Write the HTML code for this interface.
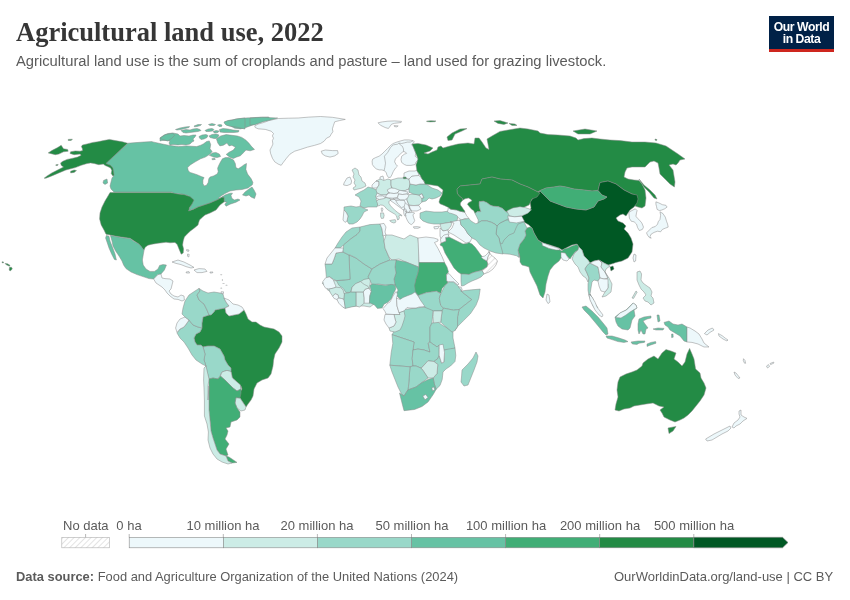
<!DOCTYPE html>
<html><head><meta charset="utf-8">
<style>
html,body{margin:0;padding:0;background:#fff;width:850px;height:600px;overflow:hidden;}
body{position:relative;font-family:"Liberation Sans",sans-serif;}
.t{position:absolute;white-space:nowrap;will-change:transform;}
#title{left:16px;top:17px;font-family:"Liberation Serif",serif;font-weight:bold;font-size:26.5px;color:#363636;letter-spacing:0px;}
#sub{left:16px;top:53px;font-size:14.75px;color:#5b5b5b;}
#logo{position:absolute;will-change:transform;left:769px;top:16px;width:65px;height:36px;background:#002147;}
#logo .bar{position:absolute;left:0;bottom:0;width:100%;height:3px;background:#ce261e;}
#logo .lt{position:absolute;left:0;width:100%;text-align:center;color:#fff;font-size:12.2px;font-weight:bold;line-height:12px;letter-spacing:-0.45px;}
.lg{position:absolute;will-change:transform;font-size:13px;color:#5b5b5b;top:517.5px;}
#foot1{left:16px;top:568.5px;font-size:12.9px;color:#5b5b5b;}
#foot2{right:17px;top:568.5px;font-size:13px;color:#5b5b5b;}
#map{position:absolute;left:0;top:0;}
</style></head><body>
<div class="t" id="title">Agricultural land use, 2022</div>
<div class="t" id="sub">Agricultural land use is the sum of croplands and pasture – land used for grazing livestock.</div>
<div id="logo"><div class="lt" style="top:4.8px">Our World</div><div class="lt" style="top:16.6px">in Data</div><div class="bar"></div></div>

<svg id="map" width="850" height="600" viewBox="0 0 850 600">
<g id="land" stroke="#888" stroke-width="0.5" stroke-linejoin="round">
<path d="M103.6 180.4 107 179 107.6 183 105 184.4 103 183Z" fill="#66c2a4"/>
<path d="M128 143.2 136 142.6 144 142 152 141.6 152.8 141.9 161.3 143.8 168.4 145.2 178.2 146.6 186.7 145.9 196.6 146.6 200.8 145.2 203.6 143.8 206.5 141.6 209.3 140.9 210.7 144.5 210 148.7 212.1 151.5 210.6 153.5 208.2 155.3 205.3 157.1 200.6 158.8 195.3 161.8 190.6 164.7 187.6 167.6 188.2 170.6 190 172.4 193.5 173.5 197.1 174.7 201.2 176.5 204.1 177.6 202.9 180 202.9 183.5 204.1 185.9 206.5 185.3 208.2 182.4 208.8 178.8 210 177.1 213.5 175.9 217.1 174.1 218.2 171.8 217.6 168.2 218.8 165.3 220.6 161.8 222.4 158.8 225.3 157.6 228.8 157.6 233.5 160 235.3 163.5 235.9 167.6 238.2 168.8 241.8 166.5 244.1 164.7 246.5 163.5 245.9 169.4 247.6 174.1 251.2 178.8 252.9 182.4 252.4 184.7 252 185 248 188 242 189.5 236 190 230 191 225 193.5 221 196 218.5 198 220 198.2 225 195 230 193.2 232.5 193.2 231 195.5 232 198.5 234.5 200 238 199 240 200 236 202.2 230 204.2 226 206.2 224.8 204 227 202.2 224.2 201.8 224 197.2 222 197.2 218 199.5 210 203 198 207 188.5 211 192 203 190 198 188 195.6 182 194 174 193.6 172 192 114 192 111 189 110 186 111 182 112 178 113.6 176 112.8 170.4 112 167 109.6 165.2 105.6 163.6Z" fill="#66c2a4"/>
<path d="M224.8 121.9 229.1 120.5 236.1 119.1 246 117.9 257.3 117.4 268.6 116.9 270 119.1 262.9 121.2 257.3 123.3 251.6 125.4 246 127.5 240.4 128.9 234.7 128.2 230.5 126.1 226.2 124.7Z" fill="#66c2a4"/>
<path d="M216.4 138.8 220.6 136 226.2 134.6 231.9 135.3 237.5 136 241.8 137.4 246 140.2 248.8 143.1 251.6 146.6 254.5 149.4 250.2 150.8 246 150.1 243.2 152.9 240.4 155.8 236.1 157.2 233.3 158.6 229.8 157.2 226.2 154.4 229.1 152.2 233.3 150.1 235.4 147.3 231.9 145.2 229.1 145.9 226.9 143.1 223.4 145.2 219.9 145.9 217.8 143.1Z" fill="#66c2a4"/>
<path d="M209.4 155.3 212.4 152.9 215.9 152.4 219.4 154.1 220.6 156.5 217.1 157.6 213.5 157.1Z" fill="#66c2a4"/>
<path d="M211.8 158.8 214.7 158.2 215.3 159.4 212.4 159.8Z" fill="#66c2a4"/>
<path d="M160 138 164 135 168 133.5 173 133 178 134 180 136 184 135.5 189 136 193 135 196 135 195 137 193 139 194 141 192 142 190 144 186 145 182 144.5 178 145 173 144.5 170 145 169 143 170 141 166 140.5 162 140.5 160 141Z" fill="#66c2a4"/>
<path d="M159.9 138.1 165.5 134.6 172.6 133.2 174.7 135.3 171.2 138.8 167.6 140.9 162.7 139.5Z" fill="#66c2a4"/>
<path d="M175.5 129.5 180 128 185 127 189.5 126.5 189 127.5 185 128.5 181 129.5 177 130Z" fill="#66c2a4"/>
<path d="M181 130.5 186 129.5 190 130 193 129 197 128.5 200 129.5 201 130.5 198 131.5 194 132 190 132.5 186 133 183 132.5Z" fill="#66c2a4"/>
<path d="M194 126 198 124.5 201.5 124.5 200.5 125.5 197 126.5 194.5 126.8Z" fill="#66c2a4"/>
<path d="M205 130.5 208 129 212 128.5 214 129.5 212.5 131 209 131.5 206 131.5Z" fill="#66c2a4"/>
<path d="M208.5 124.5 212 123.5 215.5 124.5 214 125.5 210 125.5Z" fill="#66c2a4"/>
<path d="M217.5 125 220 124.5 222 125 221.5 126.5 219 126.5Z" fill="#66c2a4"/>
<path d="M213 131.5 216 130.5 219 131 218 132.5 214.5 133Z" fill="#66c2a4"/>
<path d="M219.5 129.5 223 128.5 228 129 233 130 239 130.5 238.5 132 234 132.5 229 132.5 224 132.5 220 132Z" fill="#66c2a4"/>
<path d="M224 122 228 120.5 233 120 236 119 240 118.5 245 118 245 129 240 128 236 127 232 126.5 229 126 226 125 224.5 123.5Z" fill="#66c2a4"/>
<path d="M199 136.5 202 135 206 134.5 208 135.5 207 137.5 204 139 201 139.5 199.5 138Z" fill="#66c2a4"/>
<path d="M209 136 212 134.5 216 134 219 135 218 137 216 138.5 214 138.5 212 138 210 137.5Z" fill="#66c2a4"/>
<path d="M242.5 195 245 192 249 189 252 187 254 190 256 194 254.5 198.5 251 197 249 195 246 196Z" fill="#66c2a4"/>
<path d="M254.7 125.9 258.2 124.1 264.1 122.4 268.8 120.6 278.2 118.5 288.8 118.2 298.2 118 308.8 117.1 320.6 116.5 332.4 117.3 345.3 119.4 339.4 120.6 334.7 121.8 333.5 125.3 332.4 128.8 332.9 131.8 331.2 134.1 330 136.5 326.5 138.2 324.1 141.2 320.6 143.5 314.7 145.3 307.6 147.1 300.6 149.4 294.7 151.2 290 154.1 286.5 158.2 282.9 162.9 281.2 165.3 278.2 164.1 274.7 161.8 272.4 158.2 270.6 153.5 270 150 271.8 146.5 272.9 144.1 272.4 140.6 273.5 138.2 272.4 135.9 273.5 133.5 271.2 131.2 265.3 129.4 258.2 128.8 255.3 127.6Z" fill="#edf8fb"/>
<path d="M321.2 151.2 325.3 150 332.4 150.6 337.6 150.6 338.2 153.5 334.7 155.9 330 157.1 325.3 155.9 322.4 154.1Z" fill="#edf8fb"/>
<path d="M250 118 261.8 117.3 277.6 118 268.8 120.4 262.9 121.8 254.7 124.7 250 125.1Z" fill="#66c2a4"/>
<path d="M127.6 143.2 122.4 141.8 115.3 140.6 109.4 139.4 103.5 140.6 97.6 141.8 92.9 142.4 87.1 143.9 82.4 145.1 81.4 146.5 82.4 148.8 82.6 150.6 80 151.2 75.3 150.9 70.6 151.8 70 153.5 74.1 154.7 80 154.1 81.2 155.3 77.6 157.1 72.9 158.2 67.1 159.4 62.9 161.2 60.6 162.9 61.2 165.3 63.5 167.1 57.6 170 51.8 172.9 47.1 175.9 44.1 178.2 45.9 178.2 51.8 175.9 58.8 172.9 65.9 170 70.6 168.8 75.3 167.6 81.2 165.3 87.1 163.5 90.6 162.9 94.1 163.5 98.8 164.7 103.5 164.1 104.7 165.3 107.6 166.5 110.6 167.9 111.8 170.6 111.2 173.5 112.9 176.1 114.1 175.3 113.5 171.2 112.9 167.9 110.6 165.3 105.9 163.5Z" fill="#238b45"/>
<path d="M48.2 152.9 51.8 150.6 57.6 147.6 61.2 145.3 63.5 148.8 67.6 149.4 68.2 151.2 63.5 151.8 58.8 154.1 55.3 154.7Z" fill="#238b45"/>
<path d="M68.2 139.4 72.4 139.2 71.2 140.4 68.2 140.4Z" fill="#238b45"/>
<path d="M55.9 164.7 58.2 164.4 57.6 165.5 55.9 165.6Z" fill="#238b45"/>
<path d="M70.6 171.2 74.1 170 76.5 170.6 74.1 172.4 70.6 172.9Z" fill="#238b45"/>
<path d="M110 192.6 140 192.6 171 192.6 178 194 184 194.6 190 196.6 194 200 192 204 189.6 207.4 188.6 211 193 209.4 198 207 210 203 218 199.5 222 197.2 224 197.2 224.2 201.8 220 205 216 210 210 213 205 215 201.5 218 199.5 220 198.5 223 198 225 194.4 228 190.4 231 187.2 234 184.4 237 183.2 241 182.6 245 183.6 249 183.2 253 181.2 254.2 179.2 249.4 177.2 244.4 175 242.4 170 242.8 166 242.2 162 242.8 158 243.2 152 244.2 148 245.2 145.2 247.2 144 250.2 141.2 247.2 139 244.2 136 242.2 133 240.2 130 238.2 124 237.4 116 236.2 109 234.8 106 234.2 104 230 101.2 225 99.6 219 100 213 102 207 105 201 108 196Z" fill="#238b45"/>
<path d="M110.4 235.4 116 236.6 124 238 130 238.6 134 241.4 138 243.4 141 246 144 250.6 143.2 255 142.4 260 143.2 265 146 269 150 271.4 154.4 271.4 158 269 159.6 265.4 163 264.6 166.4 265 164.4 270 161 274 158 274.6 156 276.6 153.6 279 149 278.6 143 276.6 137 274.6 131 272 126 268.6 123.6 265 122 261 119 256 115.6 251 113 246 112 241Z" fill="#66c2a4"/>
<path d="M106.4 235.4 109 236.2 110 241 112.4 247 115 254 116.4 260 114.4 259.4 111.6 254 109 248 107 242 105.6 238Z" fill="#66c2a4"/>
<path d="M153.6 279 156 276.6 158 274.6 161 274 162 278 165 278.6 170 279 173 281 172 285 171 289 169 291 171 294 174 296 178 297 181 295 184 296 184.4 300 182 301 178 299.4 174 299 170 296 167 293 165 290 162 287 159 285 156 283Z" fill="#edf8fb"/>
<path d="M172 262 178 260 184 262 190 265 194 267.4 191 268 186 266.6 181 264.6 176 263.4Z" fill="#edf8fb"/>
<path d="M194 270 199 268.6 205 269 207 271.4 202 272.6 197 272.6Z" fill="#edf8fb"/>
<path d="M186 272 189 271.6 189.6 273 186.4 273Z" fill="#edf8fb"/>
<path d="M210 272 213 272 212.4 273 210 273Z" fill="#edf8fb"/>
<path d="M186.6 249.6 189 250 188.6 251.4 186.8 251Z" fill="#edf8fb"/>
<path d="M187.6 254 189.2 254.4 188.8 257 187.4 256.2Z" fill="#edf8fb"/>
<path d="M215 310 220 309 225 308 226 313 229 316 234 315 239 314 244 310 246 314 248 319 252 322 256 322 260 325 264 327 269 328 274 329 279 332 282 336 282 342 279 348 275 354 273.6 360 273 366 271 374 268 378 262 380 257 383 254 389 253 396 251 400 248 404 246 407 240 398 236 397.6 239 394 242 389 241 386 237 384 241 389 240.4 385 237 382 232.4 378 231 371.6 231 368 228 365 225 360 224 356 220 349 214 346 208 346 203 347 201 345 197 345 195 342 194 338 196 334 200 332 202 328 202 323 203 317 209 315 211 315 214 312Z" fill="#238b45"/>
<path d="M203 347 208 346 214 346 220 349 224 356 225 360 228 365 231 368 231 371.6 227 370.4 222 372 220 376 218 379 213 378 209 379 207 372 206 366 204 360 205 354Z" fill="#99d8c9"/>
<path d="M177 333 180 329 184 327 187 323 189 320 193 325 198 327 202 328 200 332 196 334 194 338 195 342 197 345 201 345 203 347 205 354 204 360 206 366 202 364 196 360 192 355 188 348 184 342 180 338Z" fill="#99d8c9"/>
<path d="M177 323 180 319 185 317 189 320 187 323 184 327 180 329 177 332.4 175.6 328Z" fill="#edf8fb"/>
<path d="M185 317 182 314 183 308 185 301 189 295 195 291 199 288.4 200 291 197 295 199 300 204 304 207 310 209 315 203 317 202 323 202 328 198 327 193 325 189 320Z" fill="#99d8c9"/>
<path d="M199 288.4 203 291 208 293 214 292 220 293 223 294 224 298 226 302 229 306 225 308 220 309 215 310 214 312 211 315 209 315 207 310 204 304 199 300 197 295 200 291Z" fill="#99d8c9"/>
<path d="M224 298 229 300 233 304 238 305 242 307 244 310 239 314 234 315 229 316 226 313 225 308 229 306 226 302Z" fill="#edf8fb"/>
<path d="M222 372 227 370.4 231 371.6 232.4 378 237 382 240.4 385 241 389 237 391 233 388 229 384 225 380 220.4 376Z" fill="#ccece6"/>
<path d="M236 397.6 240 398 246 407 245 410 241 411 237 408 235 403Z" fill="#ccece6"/>
<path d="M209 379 213 378 218 379 220.4 376 225 380 229 384 233 388 237 391 241 389 241 393 240 398 236 397.6 235 403 237 408 240 412 240 417 237 420 231 422 230 427 226 428 228 431 227 435 225 439 229 444 226 449 228 455 226 456 220 454 217 450 215 444 213 438 211 431 210 420 209 410 209 396 209 386Z" fill="#41ae76"/>
<path d="M226 456 229 457 237 462.4 232 463 228 461Z" fill="#41ae76"/>
<path d="M206 366 209 379 208 386 208 400 209 386 209 396 209 410 210 420 211 431 213 438 215 444 217 450 220 454 226 456 228 461 232 463 228 464 222 462 217 459 213 454 210 448 208 440 208.4 432 207 424 204.4 416 204.4 400 204 388 203.6 380 204 368Z" fill="#ccece6"/>
<path d="M372.1 161.1 372.8 159 375.6 157.6 379.1 156.2 381.9 154.1 384.8 151.2 387.6 148.4 390.4 145.6 393.2 143.5 396.8 142.1 400.3 141 404.5 139.9 408.8 139.9 413 140.6 414.4 141.7 411.6 144.9 413.7 147 414.4 149.8 415.8 153.4 415.1 156.2 418.6 159 415.8 162.5 415.1 164.6 410.9 165.4 406.6 165.4 404.5 164.6 401.7 162.5 401 159.7 401.7 156.2 404.5 154.1 406.6 153.4 405.2 151.9 403.1 151.6 401 153.4 398.2 156.2 395.4 159 394.6 161.8 396.1 164.6 397.5 166.1 395.4 168.2 393.2 171.7 391.8 175 390.4 177.4 388.3 177.4 386.9 175 386.2 172.4 384.1 170.6 381.9 169.9 379.1 169.9 376.3 168.9 374.2 167.1 372.4 164.6Z" fill="#edf8fb"/>
<path d="M380 177 383 176 384 180 382 182.4 380 181Z" fill="#edf8fb"/>
<path d="M352 170 355 168 358 170 359 175 361 177 362 181 365 183 366 186 362 188 358 189 354 190 353 188 356 186 354 183 355 180 353 177 354 174Z" fill="#ccece6"/>
<path d="M344 183 347 178 350 177 351.6 181 351 184 347 185.6 343.6 185Z" fill="#edf8fb"/>
<path d="M372 185 376 181 379 181 379 185 377 188 372 188Z" fill="#edf8fb"/>
<path d="M355 195 360 192 364 190 368 187 372 188 377 190 379 193 377 197 376 200 379 202 377 207 372 207 368 207 364 208 360 206 361 201 359 197Z" fill="#99d8c9"/>
<path d="M344 207 351 206 356 207 360 206.4 364 208.4 368 210 364 212 362 216 360 219 357 222 353 224 349 224 347 221 348 216 346 212 344 210Z" fill="#99d8c9"/>
<path d="M344 210 346 212 348 216 347 221 345 222.4 343 220 343.6 214Z" fill="#edf8fb"/>
<path d="M376 181 380 179 384 180.4 388 179 391 180 391 185 392 190 388 193 386 195 381 195 377 193 376 190 377 188 379 185 379 181.6Z" fill="#ccece6"/>
<path d="M391 180 398 178 404 178 409 179 410 184 409 189 404 191 399 191 394 189.6 392 188 391 185Z" fill="#ccece6"/>
<path d="M377 193 381 195 386 195 392 190 394 189.6 399 191 404 191 409 189 410 192 407 195 404 197 400 199 396 199 391 199 387 198 382 198 378 199 375.6 197Z" fill="#edf8fb"/>
<path d="M376.5 201.2 378.8 199.4 382.9 198.2 386.5 197.6 389.4 198.2 391.2 200 388.8 201.5 389.1 203.5 390.6 205.9 392.9 208.2 395.3 210.6 397.6 212.4 400 214.1 402.1 215.6 401.2 215.9 400 215 398.8 215.9 399.4 217.6 398.8 219.4 397.6 220 397.1 218.2 396.5 215.9 394.7 214.1 391.8 212.4 388.8 210.6 386.5 208.8 384.7 206.5 382.9 205.3 380.6 205 378.8 205.9 377.6 205.3 377.4 203.2Z" fill="#ccece6"/>
<path d="M389.7 220.6 392.4 220 395.3 219.7 395.9 221.2 395.3 222.6 393.5 222.9 391.2 222.1Z" fill="#ccece6"/>
<path d="M381.2 208.2 382.4 207.9 382.9 209.4 382.1 211.8 381.5 211.2Z" fill="#edf8fb"/>
<path d="M380.6 212.9 383.5 212.9 384.1 215.3 383.5 218.2 381.5 218.5 380.6 216.5Z" fill="#ccece6"/>
<path d="M390 200 396 199 400 199 404 197 407 195 407 200 409 205.6 409.6 209 412 211 408 214 406 212 402 209 398 206 394 203 391 201Z" fill="#edf8fb"/>
<path d="M407 195 413 194 419 195 422 198 422 202 419 205 414 205.6 409 205 407 200Z" fill="#ccece6"/>
<path d="M409 205.6 414 205.6 419 205.6 421 209 417 211 412 211 409.6 209Z" fill="#edf8fb"/>
<path d="M419 195 422 193.6 424 198 422 199Z" fill="#edf8fb"/>
<path d="M410 184 416 185 420 184 426 184 432 188 438 190 442 193 440 196 436 198 432 199 429 198 426 201 422 202 422 198 424 198 422 193.6 419 195 413 194 409 192 409 189Z" fill="#99d8c9"/>
<path d="M409 179 412 176 418 175 422 178 424 182 426 184 420 184 416 185 410 184Z" fill="#edf8fb"/>
<path d="M404 173 409 171 415 171 417 170 419 175 418 175.6 412 176 409 179 404 178 404 176Z" fill="#edf8fb"/>
<path d="M403 177.2 406 177 406.4 178.6 403.6 178.8Z" fill="#238b45"/>
<path d="M420 213 426 211 434 212 442 212 449 211 454 213 458 216 457 221 452 222 446 223 440 224 434 224 428 223 423 221 420 218Z" fill="#99d8c9"/>
<path d="M440 224 446 223 452 222 451 226 448 230 443 231 441 228Z" fill="#ccece6"/>
<path d="M440 228 443 231 448 230 449 235 445 238 442 242 440 236Z" fill="#edf8fb"/>
<path d="M448.3 207.9 450.8 209.2 456.7 210 460 211.2 464.2 212.1 465 212.5 466.7 215.8 468.8 218.3 468.3 219.6 465 218.5 461.7 220 458.8 218.3 456.7 215.4 452.5 213.8 449.2 212.9 447.5 211.7Z" fill="#edf8fb"/>
<path d="M378 122.8 382.2 121.9 387.9 121.2 394.5 120.9 401.5 121.4 401.1 122.5 394.5 123.3 391.6 124.2 388.4 128.5 385.1 127.5 380.4 125.2Z" fill="#edf8fb"/>
<path d="M394 125.6 398.2 125.9 396.8 126.9 394.5 126.6Z" fill="#edf8fb"/>
<path d="M426.5 121.1 431.2 120.7 435.9 120.9 434.9 121.7 430.2 121.9 426.9 121.6Z" fill="#238b45"/>
<path d="M387.3 189.8 391.1 187.9 394.8 188.4 399.5 190.2 397.6 193.1 393.9 193.5 390.1 193.1 387.8 191.6Z" fill="#edf8fb"/>
<path d="M399.5 190.2 404.2 191.2 408 192.1 407.1 194 402.4 194.5 398.6 194 397.6 193.1Z" fill="#edf8fb"/>
<path d="M388.2 193.5 390.1 193.1 393.9 193.5 397.6 193.1 398.6 194 397.6 197.3 392.9 198.2 388.2 197.8 385.4 197.3 386.4 195.4Z" fill="#edf8fb"/>
<path d="M398.6 194 402.4 194.5 407.1 194 408.9 195.4 407.5 198.2 404.2 200.1 400.5 200.1 397.6 198.2 397.6 197.3Z" fill="#edf8fb"/>
<path d="M376 197.3 378.8 195.9 382.6 195.9 385.4 197.3 383.5 198.7 379.3 199.4 376.8 198.7Z" fill="#edf8fb"/>
<path d="M405.3 213.5 407.6 212.6 410.6 212.6 412.9 212.4 414.7 213.2 412.9 214.7 413.5 217.1 414.7 220.6 413.5 222.9 411.2 224.7 408.8 222.9 407.1 220 405.9 217.1Z" fill="#edf8fb"/>
<path d="M403.5 209.4 405.3 208.8 406.5 210 406.2 212.9 405.3 213.5 405.9 215.9 404.7 215.9 403.8 213.5Z" fill="#edf8fb"/>
<path d="M413.3 226.8 417 226.6 420.4 227.2 418 228.3 414 228.2Z" fill="#edf8fb"/>
<path d="M433.8 226.8 439.4 226.1 438 228.6 434.5 228.9Z" fill="#edf8fb"/>
<path d="M412 144 418 143.4 426 145 433 148 430 151 424 153 428 154 432 152 437 150 438 147 441 146 443 148 450 146 458 144 468 143 474 144 475 138 479 138 482 142 486 148 489 149.4 488 144 487 139 492 136 500 131.4 508 130 520 128 528 129 538 131 540 133 548 134.6 558 135 570 136 576 138 578 140 584 138.6 592 138 600 139 610 140 620 140.6 632 142 645 142 656 143 666 146 672 150 678 154 685 159 680 160 678 163 676 165 673 164 669 165 673 170 674 176 675 182 674.4 187 670 184 665 179 660 174 659 168 658 163 654 161 650 162 648 164 645 167 640 167 632 167 627 168 625 172 624 177 628 179 634 180 639 180.4 642 184 645 190 646 198 645 206 642 208 638 207 635 206 636 202 637 195.6 632 194 624 190 616 184 608 181 600 182.6 598 190.6 592 191 584 190 574 189 566 187 560 186 554 187 546 188 540 190.6 538 192 536 191 528 187 520 184 512 180 500 179 492 177 482 179 480 184 470 185 460 186 457 189 457.4 193.4 459.2 195.8 462.4 198.4 462.4 200.4 460.4 203 460.4 205 461.6 206.6 463.4 209.2 464.6 210.8 465 212.4 464.2 212 460 211.2 456.6 210 450.8 209.2 448.4 207.4 444.2 205.4 440 203.8 439 202 440 198.6 442 195 443 190 438 186 432 185 425 184 424 181 422 179 420 175 417 171 416 165 418 159 415 151Z" fill="#238b45"/>
<path d="M447 137 452 133 460 129 467 128.6 462 131 455 134 452 140 448 140.6Z" fill="#238b45"/>
<path d="M494 121 500 120.6 508 123 504 124.4 498 123.4Z" fill="#238b45"/>
<path d="M509 123.4 515 124 517 125.4 512 125.4Z" fill="#238b45"/>
<path d="M655 139 657 139.6 656.6 140.6 655.2 140.2Z" fill="#238b45"/>
<path d="M639 179 644 185 650 190 655 195 657 199 654 198 649 192 644 187Z" fill="#238b45"/>
<path d="M538 193 540 191 546 197 550 201 558 204 566 207 576 209 586 210 594 207 598 201 604 199 607 197 602 195 598 190.6 600 182.6 608 181 616 184 624 190 632 194 637 195 638 199 637 203 634 207 630 210 626 216 623 214 620 215 616 218 618 221 623 223 626 226 624 229 628 233 631 238 633 244 632 252 628 258 622 261 616 262.4 613 263.6 608 265 604 263 599 260 594 261 590 263 588 260 584 256 582 250 579 247 577 244 572 245 568 247 562 250 559 248 550 245 543 243 538 240 534 233 532 228 529 225 524 222 521 217 523 215 529 212 531 208 530 202 533 198Z" fill="#005824"/>
<path d="M610 267 613 266 614 269 611 271Z" fill="#005824"/>
<path d="M634 254 636 255 635.6 261 634 262 633 258Z" fill="#edf8fb"/>
<path d="M519.2 257.4 518 250 520 244 524 239 526 235 525 231 527 228 530 227 532 228 534 233 538 240 542.4 243 550 247 559 249.6 562 251 564 249 568 248 572 246 577 244.4 579 247 578 250 575 252 572 256 570 259 567 256 565 253 562 253.6 561 258 559 261 554 265 550 270 548 276 546 284 545 292 543 298 540 295 537 286 533 278 530 272 529 267 526 266 522 265 520 262 520 257 519 253Z" fill="#41ae76"/>
<path d="M561 252.4 565 253 567 256 569 259 567 261 563 260 561 257Z" fill="#edf8fb"/>
<path d="M542 242.4 550 245.6 559 248.4 560 250 556 250 549 248.4 542.4 245.6Z" fill="#edf8fb"/>
<path d="M547 294 549 295 550 302 548 303.6 546 300Z" fill="#edf8fb"/>
<path d="M519.2 257.4 518 250 520 244 524 239 526 235 525 231 527 228 524 222 521 217 518 220 514 223 511 227 507 230 505 236 502 240 499 243 501 250 502.4 253.6 510 254.2 516.6 255.8Z" fill="#99d8c9"/>
<path d="M502 216 508 214 514 215 521 217 518 220 514 223 511 227 507 230 505 236 502 240 499 242 496 240 494 234 495 226 498 220Z" fill="#99d8c9"/>
<path d="M578 250 579 247 582 250 584 256 588 260 590 263 587 265.6 585 269 587 273 589 278 588 282 586 278 583 276 580 272 578 267 575 264 572 259 574 254 576 252Z" fill="#ccece6"/>
<path d="M587 265.6 590 263 594 265 598 267 599 272 600 278 598 281 594 280 592 282 591 288 590 294 593 299 594 302 591 301 589 296 588 290 588 284 589 278 587 273 585 269Z" fill="#99d8c9"/>
<path d="M590 263 594 261 599 260 602 263 601 267 605 272 608 278 604 279 600 278 599 272 598 267 594 265Z" fill="#edf8fb"/>
<path d="M599 260 604 263 608 265 610 266 606 269 605 272 609 278 612 284 611 292 606 296 602 297 605 292 608 288 608 284 605 280 608 278 605 272 601 267 602 263Z" fill="#ccece6"/>
<path d="M598 281 600 278 604 279 608 279 608 288 605 292 601 291 599 286Z" fill="#edf8fb"/>
<path d="M590 294 594 302 598 308 596 310 593 306 591 301Z" fill="#99d8c9"/>
<path d="M628.8 212.4 631.8 210.6 635.3 208.8 637.1 210.6 636.5 212.9 635.9 216.5 638.8 219.4 641.8 222.9 643.5 227.1 642.4 229.4 639.4 230.6 637.6 227.6 636.5 224.1 634.1 221.8 631.2 221.2 629.4 218.2Z" fill="#edf8fb"/>
<path d="M655.9 201.8 658.8 202.9 662.4 204.7 665.9 205.3 667.1 207.1 664.7 208.8 661.8 210 659.4 210.6 657.1 209.4 656.5 206.5 655.9 204.1Z" fill="#edf8fb"/>
<path d="M660 211.8 662.9 213.5 665.3 217.1 666.5 221.2 667.6 224.1 668.2 227.1 665.3 228.2 662.4 229.4 660.6 231.8 657.6 231.2 654.1 232.4 651.2 234.1 650 236.5 651.2 238.2 649.4 237.6 647.6 235.3 646.5 232.9 649.4 230 651.8 227.6 655.3 226.5 657.6 224.1 658.2 221.8 660 219.4 660.6 215.3Z" fill="#edf8fb"/>
<path d="M457 189 460 186 470 185 480 184 482 179 492 177 500 179 512 180 520 184 528 187 536 191 540 193 537 197 532 199 529 205 520 209 512 212 510 213.4 505.8 211.6 502.4 208.4 498.4 206.6 493.4 206.2 490 205 486.6 202.4 483.4 201.2 479.2 201.6 479.2 205.8 480 209.2 480.8 211.6 477.4 211.6 475 213.4 473.8 210.8 471.6 209.2 469.2 206.6 467.4 204.2 468.8 202.4 470.8 201.6 472 200.8 470.8 199.2 468.4 198 465 198.8 462.4 200.4 462.4 198.4 459.2 195.8 457.4 193.4Z" fill="#238b45"/>
<path d="M540 191 546 197 550 201 558 204 566 207 576 209 586 210 594 207 598 201 604 199 607 197 602 195 598 190.6 598 190.6 592 191 584 190 574 189 566 187 560 186 554 187 546 188 540 190.6Z" fill="#41ae76"/>
<path d="M573 131 585 129 597 131 590 134 578 134Z" fill="#238b45"/>
<path d="M497 226 500 223 506 220 510 220 516 221 522 219 524 222 518 224 516 228 514 233 509 235 504 240 502 244 500 243 499 238 496 234Z" fill="#99d8c9"/>
<path d="M450 222 455 221 460 220 461 225 465 229 468 234 472 238 470 242 466 243 460 239 454 235 448 232 452 228 454 223Z" fill="#edf8fb"/>
<path d="M440 245 441 243 446 241 445.5 237.5 449 237 453 239 459 242 463 244 467 243.5 469 242.5 472 244 475 247 478 251 480.5 254.5 483 257.5 485 260 487 261 488 264 487 267 482 270 479 271 475 272 472 273 469 274.5 464 274 461 274 458 272 454 268 451 263 448 258 445 253 442.5 246.5Z" fill="#41ae76"/>
<path d="M441 243 440.5 239.5 442 237 444 235 448 234 449 237 445.5 237.5 446 241Z" fill="#edf8fb"/>
<path d="M481 257 485 256 488 253 489 251.5 489.5 254 488 257 487 261 485 260 483 259Z" fill="#edf8fb"/>
<path d="M489 251.5 491 255 495 258 497.5 261 496 265 493 269 489 272 484 274 482 270.5 487 267 488 264 487 261 488 257 489.5 254Z" fill="url(#hatch)"/>
<path d="M461 274 464 274 469 274.5 472 273 475 272 479 271 482 270.5 484 274 481 277 477 279 472 281 468 283 464 285.5 461.5 286 461 281Z" fill="#99d8c9"/>
<path d="M475 213.4 477.4 211.6 480.8 211.6 480 209.2 479.2 205.8 479.2 201.7 483.3 201.2 486.7 202.5 490 205 493.3 206.2 498.3 206.7 502.5 208.3 505.8 211.7 510 213.3 510 218 506 220 500 223 497 226 495 224.2 491.6 222.4 486.6 220.8 481.6 220.8 477.9 222.9 478.3 220 476.7 216.7Z" fill="#99d8c9"/>
<path d="M460 220 468.8 218.4 470.8 220.8 473.4 222.4 475.8 223.8 478 223 481.6 220.8 486.6 220.8 491.6 222.4 495 224.2 497 226 496 234 499 238 500 243 502 250 503 254 496 253 490 251 484 248 480 245 476 240 472 238 468 234 465 229 461 225Z" fill="#99d8c9"/>
<path d="M506.8 210.9 512.9 207.9 520 206.7 525.3 207.6 531.5 209.7 527.9 213.2 521.8 215.9 514.7 216.8 509.4 215.9Z" fill="#ccece6"/>
<path d="M507.6 215.9 514.7 216.8 521.8 216.2 524.4 221.2 516.5 222.9 509.4 222.1Z" fill="#edf8fb"/>
<path d="M322 283 324.6 285.8 328.2 287.6 327 289.4 329.4 291.2 331.8 293.4 335.2 295.8 337.6 300 341 305 344 308 348 307 356 306 364 306 370 307 374 304 370 299 369 293 370 285 370.6 278.2 360 279 350 281 336.4 280.6 326.4 281Z" fill="#ccece6"/>
<path d="M349 255 356 258 364 264 372 269 368 277 370.6 278.2 364 279.4 361.2 281.2 355.2 284.2 351.8 287.6 350.6 292.4 345.8 292.4 343.6 288.8 338.8 285.2 336.4 280.6 344 280 350 279.4Z" fill="#99d8c9"/>
<path d="M325 264 332 264 334.4 258 336 253 343 252 349 255 350 279.4 336.4 280.6 333.4 279.4 330 277 326.4 277.6 326 273 325.6 268Z" fill="#99d8c9"/>
<path d="M352 228 360 227 360 231 357 234.6 352 238 347 242 343.6 245 340 248 335 248 338 243 342 237 346 232Z" fill="#99d8c9"/>
<path d="M335 248 343.6 248 343 252 336 253 334.4 258 332 264 325 264 327 258 331 253Z" fill="#edf8fb"/>
<path d="M360 227 370 224.6 380 224 382 229 383 235 384 241 385 248 388 255 390 260 380 264 372 269 364 264 356 258 350 255 349 255 343 252 343.6 245 347 242 352 238 357 234.6 360 231Z" fill="#99d8c9"/>
<path d="M380 224 384 223.4 386 227 385 232 386 235 383 236 382 229Z" fill="#edf8fb"/>
<path d="M386 235 392 235 398 237 404 239 410 235 418 238 419 249 419 267 416 266 406 262 399 259 392 260 389 257 385 248 384 241Z" fill="#ccece6"/>
<path d="M396 260 406 262 416 266 419 267.4 418 273 416 279 415 286 417 291 418 297 412 299 404 301 400 299 396 295 398 290 395 285 394 279 396 273 395 267Z" fill="#66c2a4"/>
<path d="M372 269 380 264 390 260 396 260 395 267 396 273 394 279 395 285 389 285 384 284.8 378 284 372 285 370 280 368 277Z" fill="#99d8c9"/>
<path d="M418 238 426 237 434 238 438 239.4 438 241 434.5 242.5 438 248.5 442 256.5 444.5 262.5 419 262.6Z" fill="#edf8fb"/>
<path d="M419 262.6 444.5 262.5 447 267 448.5 272 446.5 274.5 446.4 275.6 447.8 282.7 444.9 285.5 442.1 288.4 440.7 293.3 436.5 291.2 426.6 292.6 418.1 295.4 415.3 291.2 414.6 285.5 416 279 418 273 419 267Z" fill="#41ae76"/>
<path d="M322.8 281.6 325.6 277.8 329.4 276.9 333.2 279.7 335.5 285.4 336 287.2 333.2 288.2 328.9 289.1 325.6 288.2 323.8 285.4Z" fill="#edf8fb"/>
<path d="M328.9 289.1 333.2 288.2 336 287.2 340.7 287.7 343.1 290.1 344 293.8 344.5 293.4 344 299.5 341.6 298.5 338.8 298.1 337.9 294.8 335.1 293.8 332.7 296.2 330.4 292.9Z" fill="#ccece6"/>
<path d="M332.7 296.2 335.1 293.8 337.9 294.8 338.8 298.1 336.9 299.5 334.1 298.5Z" fill="#edf8fb"/>
<path d="M336.9 299.5 338.8 298.1 341.6 298.5 344 299.5 344.9 305.1 345.4 308.4 342.6 307 338.8 303.2Z" fill="#edf8fb"/>
<path d="M344.5 293.4 348.2 292.9 351.1 291.9 356.2 291.9 356.2 306.1 351.1 307 345.4 308.4 344.9 305.1 344 299.5Z" fill="#99d8c9"/>
<path d="M356.2 291.9 363.3 291.9 364.2 297.6 364.2 303.2 359.5 307 356.2 306.1Z" fill="#ccece6"/>
<path d="M363.3 291.9 365.2 289.1 368.9 288.2 371.3 291.5 369.9 295.7 369.4 303.2 364.2 303.2 364.2 297.6Z" fill="#edf8fb"/>
<path d="M351.1 291.9 352 287.2 355.8 283.5 360.5 281.6 364.2 284.4 368 286.3 368.9 288.2 365.2 289.1 363.3 291.9 356.2 291.9Z" fill="#ccece6"/>
<path d="M369.9 285.4 372.7 283.9 376.5 284.4 381.2 284.9 385.9 285.4 391.5 284.4 395.3 285.4 395.8 289.1 393.4 293.8 391.5 298.5 387.8 302.3 384 304.2 382.1 307.9 377.4 308.4 374.6 305.1 370.8 303.2 369.4 303.2 369.9 295.7 371.3 291.5Z" fill="#66c2a4"/>
<path d="M400 310 416 308 424 307 430 308 433 310 432 323 430 327 430 342 428 343 430 352 424 350 418 349 413 350 414 342 405 339 396 336 392 335 394 331 398 328 400 322 400 316Z" fill="#99d8c9"/>
<path d="M430 327 432 323 438 322 442 325 449 329 453 332 453 338 455 348 449 350 442 350 437 347 430 342Z" fill="#99d8c9"/>
<path d="M462 370 468 364 473 358 476 352 478 356 477 362 474 370 470 380 468 385 464 386 461 382 461.6 376Z" fill="#99d8c9"/>
<path d="M446.5 274.5 449 273.5 452 277 456 281 459 284 458 285 454 282 450 282 446.5 281Z" fill="#edf8fb"/>
<path d="M418.1 295.4 426.6 292.6 436.5 291.2 440.7 294 439.3 298.2 440.7 305.3 443.5 308.1 442.1 310.9 433.6 310.9 425.2 307.4 420.9 303.9Z" fill="#99d8c9"/>
<path d="M440.7 294 444.9 285.5 449.2 282 453.4 282 458.4 286.2 461.2 289.8 461.2 291.2 464.7 294 471.8 299.6 459.1 309.5 453.4 310.2 443.5 308.1 440.7 305.3 439.3 298.2Z" fill="#99d8c9"/>
<path d="M458.4 286.9 461.2 287.2 462.2 289.8 461.2 291.2 461.2 289.8Z" fill="#edf8fb"/>
<path d="M461.2 291.2 464.7 290.5 471.8 289.8 480.2 289.1 478.8 298.2 476 305.3 470.4 313.8 463.3 320.8 457.6 326.5 454.8 330.7 456.9 326.5 457.6 316.6 459.1 309.5 471.8 299.6 464.7 294Z" fill="#99d8c9"/>
<path d="M443.5 308.1 453.4 310.2 459.1 309.5 457.6 316.6 457.6 326.5 454.8 330.7 452 332.1 442.1 323.6 440.7 322.2 442.1 310.9Z" fill="#99d8c9"/>
<path d="M433.6 310.9 442.1 310.9 440.7 322.2 433.6 322.9 432.9 316.6Z" fill="#ccece6"/>
<path d="M392 334.5 396.1 336 405.1 339 414.1 342 413 349.9 412.2 358.5 413 366 410 366.8 389.8 365.2 391.2 352.5 392.8 343.5Z" fill="#99d8c9"/>
<path d="M413 349.9 417.9 349.1 423.9 349.9 429.9 352.1 428.3 343.5 429.9 342 437 346.9 439.2 345 439.2 355.5 437.8 358.5 434 361.5 428 360.8 421.2 368.2 416 366 413 366 412.2 358.5Z" fill="#99d8c9"/>
<path d="M434 361.5 437.8 358.5 439.2 355.5 441.5 363 443.8 362.2 444.5 352.5 443 351 446 349.5 455 348 455.8 355.5 455 361.5 450.5 366 446 369 443 372 442.2 379.5 440 385.5 436.2 389.2 434.3 384 433.2 378 437 373.5 437.8 364.5Z" fill="#99d8c9"/>
<path d="M439.2 345 443 344.2 444.5 352.5 443.8 362.2 441.5 363 439.2 355.5Z" fill="#edf8fb"/>
<path d="M421.2 368.2 428 360.8 434 361.5 437.8 364.5 437 373.5 433.2 378 428 378 423.5 371.2Z" fill="#ccece6"/>
<path d="M410 366.8 413 366 416 366 421.2 368.2 423.5 371.2 428 378 422 382.5 416 387 407.8 390 408.5 386.2Z" fill="#99d8c9"/>
<path d="M389.8 365.2 410 366.8 408.5 386.2 407.8 390 404 396 401.8 394.5 398 387 395 379.5 392 372Z" fill="#99d8c9"/>
<path d="M399.5 393 404 396 407.8 390 416 387 422 382.5 428 379.5 433.2 378 434.3 384 436.2 389.2 433.2 394.5 428 402 422 406.5 414.5 409.5 404 410.7 402.5 405 401 399Z" fill="#66c2a4"/>
<path d="M422.8 396 425.8 394.5 428 397.5 425 399.8Z" fill="#edf8fb"/>
<path d="M431.8 387.8 434 387 434.8 390 432.5 390.8Z" fill="#edf8fb"/>
<path d="M383 308.5 388 303 390 302 393 296 396 291.5 397.5 294 396.5 298 397 306 399 312.5 400 314.5 394 314.5 386 314 385 311.5Z" fill="#edf8fb"/>
<path d="M396.5 298 400 299.5 403 297.5 408 295.5 412 294 415 292 418 296 421 301 425 306.5 419 307 416 308 410 308 407 307.5 404 311 400 312.5 399 312.5 397 306Z" fill="#edf8fb"/>
<path d="M399 312.5 400 312.5 404 311 405 316 404 320 402 326 400 330 395 332 390 331 389 328 394 326 396 322 395 319 394 314.5 400 314.5Z" fill="#ccece6"/>
<path d="M385 314.5 394 314.5 395 319 396 322 394 326 389 328 386 324 384 320Z" fill="#edf8fb"/>
<path d="M582 307 586 306 592 311 598 317 603 323 607 328 608 334 606 335 603 332 599 327 594 321 589 315 584 310Z" fill="#66c2a4"/>
<path d="M606 336 612 336 619 338 625 340 628 341.6 624 342.4 618 341.6 612 339.6 607 338Z" fill="#66c2a4"/>
<path d="M631 342 638 341 645 341 644.4 342.4 639 343.2 637 344.4 632.4 344Z" fill="#66c2a4"/>
<path d="M647 344 651 342.4 655.6 341.6 656 343.2 650 345.2 647 346.4Z" fill="#66c2a4"/>
<path d="M615 317 620 313 626 310 630 306 633 303 636 305 637 308 634 310 635 316 632 320 630 328 628 330 622 329 618 326 616 322Z" fill="#66c2a4"/>
<path d="M615.6 317.6 620 313 626.4 310 630.4 306 633.2 303 636 305 637 308 634 309.6 630 312 626 315 621 318Z" fill="#edf8fb"/>
<path d="M639 319 644 317 651 316 651 318 647 319 643 321 645 324 648 328 646 329 645 334 643 334 641 330 639 334 638 330 638 324Z" fill="#66c2a4"/>
<path d="M657 315 659 315 660 321 658 322Z" fill="#66c2a4"/>
<path d="M653 329 658 328 664 328.4 663 330 656 330Z" fill="#66c2a4"/>
<path d="M671.6 334 673 334 673.2 337.2 671.6 337.6Z" fill="#66c2a4"/>
<path d="M664 322.4 669 321 673 324 678 325 682 324 687 327 687 342 684 341 680 336 675 333 670 330 668 327 665 325Z" fill="#66c2a4"/>
<path d="M687 327 690 328 695 331 699 334 702 339 704 343 709 347 704 347 698 344 692 342.4 687 342Z" fill="#edf8fb"/>
<path d="M704.4 333.6 708 330 712.4 328 714 330 710 332.4 707 335Z" fill="#edf8fb"/>
<path d="M718.4 333.6 722 335.6 725.6 338.4 728 340 727 341 723 339 719 336Z" fill="#edf8fb"/>
<path d="M637 272 640 271 641.6 274 641 280 643 283 647 286 650 288 652 292 651 296 653 298 654 303 651 305 648 302 645 301 643 298 646 295 644 292 641 289 639 285 637 280Z" fill="#ccece6"/>
<path d="M632 298 636 291 637.2 292 633.6 298.4Z" fill="#ccece6"/>
<path d="M589 294 592 297 595 302 597 307 600 311 603 315 602 317 599 315 595 310 593 306 590 300Z" fill="#edf8fb"/>
<path d="M620 377 626 374 632 372 637 370 642 366 643 363 648 359 654 356 658 359 662 353 666 349.6 671 351 676 353 674 359 678 362 682 366 685 362 687 354 689.6 348.4 692 354 694 359 695.6 369 700 373 701 378 704 383 706 388 704 395 700 401 696 406 692 411 688 415 684 418 680 420 675 422 670 420 664 417 662 413 660 410 664 407 659 406 653 403 646 404 640 405 634 406 630 408 624 409 619 411 615 410 616 404 618 397 617 390 618 382Z" fill="#238b45"/>
<path d="M668 428 676 426.4 673 431 669 433.6Z" fill="#238b45"/>
<path d="M739 411 741 410 741 415 744 417 747 418.4 743 421 740 424 736 426 734 428 732 427 734 423 738 420 740 417 739 414Z" fill="#edf8fb"/>
<path d="M730 426 731 428 728 431 722 434 717 437 712 440 707 441 705.6 439 709 437 714 434 720 431 726 428Z" fill="#edf8fb"/>
<path d="M734 372 736 373 740 378 738 378.4 735 375Z" fill="#edf8fb"/>
<path d="M743.5 358.7 745 360.5 745.6 363.3 744.5 363.2 743.3 360.6Z" fill="#edf8fb"/>
<path d="M766.5 366 768.5 364.6 769.5 366.5 767.5 368Z" fill="#edf8fb"/>
<path d="M770 363.6 773.5 362 774 363 770.6 364.6Z" fill="#edf8fb"/>
<path d="M9.5 267.3 11.5 267.3 12.3 269 10.2 271 9.2 270Z" fill="#238b45"/>
<path d="M5 263.4 7.5 263.8 10 265.3 9.4 266.2 6 264.6Z" fill="#238b45"/>
<path d="M2 261.8 3.6 262 3.3 262.9 2 262.7Z" fill="#238b45"/>
<path d="M220.7 274.7 221.2 274.2 221.7 274.7 221.2 275.2Z" fill="#edf8fb"/>
<path d="M221.9 280 222.4 279.5 222.9 280 222.4 280.5Z" fill="#edf8fb"/>
<path d="M223 283.5 223.5 283 224 283.5 223.5 284Z" fill="#edf8fb"/>
<path d="M226 285.3 226.5 284.8 227 285.3 226.5 285.8Z" fill="#edf8fb"/>
<path d="M220.7 288.2 221.2 287.7 221.7 288.2 221.2 288.7Z" fill="#edf8fb"/>
<path d="M221 291.8 223.5 291.8 223.5 293.5 221.3 293.5Z" fill="#edf8fb"/>
<path d="M384.1 170.6 384.8 167.5 385.5 163.2 384.4 156.2 387.6 152.6 390.4 147.7 393.2 144.9 397.5 144.2 398.9 143.1" fill="none"/>
<path d="M398.9 143.1 401.7 143.5 404.5 142.8 407.4 142.1 410.2 142.1 413 141" fill="none"/>
<path d="M398.9 143.1 400.3 144.9 402.4 146.3 403.5 149.1 403.5 151.6" fill="none"/>
<path d="M392.9 198.2 395.8 200.6 400.5 200.1 404.2 200.1" fill="none"/>
<path d="M395.8 200.6 397.6 203.9 401.4 207.6 404.2 206.7 405.2 202.9 404.2 200.1" fill="none"/>
<path d="M405.2 202.9 408.9 205.8 410.8 209.5 408.9 212.4 405.2 211.4 404.2 206.7" fill="none"/>
</g>
</svg>

<svg style="position:absolute;left:0;top:0" width="850" height="600">
<defs><pattern id="hatch" width="4" height="4" patternUnits="userSpaceOnUse" patternTransform="rotate(45)"><rect width="4" height="4" fill="#fff"/><line x1="0" y1="0" x2="0" y2="4" stroke="#dcdcdc" stroke-width="1.6"/></pattern></defs>
<rect x="61.8" y="537.3" width="47.6" height="10.5" fill="url(#hatch)" stroke="#b0b0b0" stroke-width="0.6"/>
<line x1="85.6" y1="534" x2="85.6" y2="537.3" stroke="#999" stroke-width="0.7"/>
<g stroke="#8a8a8a" stroke-width="0.6">
<rect x="129.2" y="537.3" width="94.1" height="10.5" fill="#edf8fb"/>
<rect x="223.3" y="537.3" width="94.1" height="10.5" fill="#ccece6"/>
<rect x="317.4" y="537.3" width="94.1" height="10.5" fill="#99d8c9"/>
<rect x="411.5" y="537.3" width="94.1" height="10.5" fill="#66c2a4"/>
<rect x="505.6" y="537.3" width="94.1" height="10.5" fill="#41ae76"/>
<rect x="599.7" y="537.3" width="94.1" height="10.5" fill="#238b45"/>
<path d="M693.8 537.3 H782.5 L788 542.55 L782.5 547.8 H693.8 Z" fill="#005824"/>
<line x1="129.2" y1="534" x2="129.2" y2="537.3"/>
<line x1="223.3" y1="534" x2="223.3" y2="537.3"/>
<line x1="317.4" y1="534" x2="317.4" y2="537.3"/>
<line x1="411.5" y1="534" x2="411.5" y2="537.3"/>
<line x1="505.6" y1="534" x2="505.6" y2="537.3"/>
<line x1="599.7" y1="534" x2="599.7" y2="537.3"/>
<line x1="693.8" y1="534" x2="693.8" y2="537.3"/>
</g>
</svg>
<div class="lg" style="left:62.6px">No data</div>
<div class="lg" style="left:129.2px;transform:translateX(-50%)">0 ha</div>
<div class="lg" style="left:223.3px;transform:translateX(-50%)">10 million ha</div>
<div class="lg" style="left:317.4px;transform:translateX(-50%)">20 million ha</div>
<div class="lg" style="left:411.5px;transform:translateX(-50%)">50 million ha</div>
<div class="lg" style="left:505.6px;transform:translateX(-50%)">100 million ha</div>
<div class="lg" style="left:599.7px;transform:translateX(-50%)">200 million ha</div>
<div class="lg" style="left:693.8px;transform:translateX(-50%)">500 million ha</div>

<div class="t" id="foot1"><b>Data source:</b> Food and Agriculture Organization of the United Nations (2024)</div>
<div class="t" id="foot2">OurWorldinData.org/land-use | CC BY</div>
</body></html>
